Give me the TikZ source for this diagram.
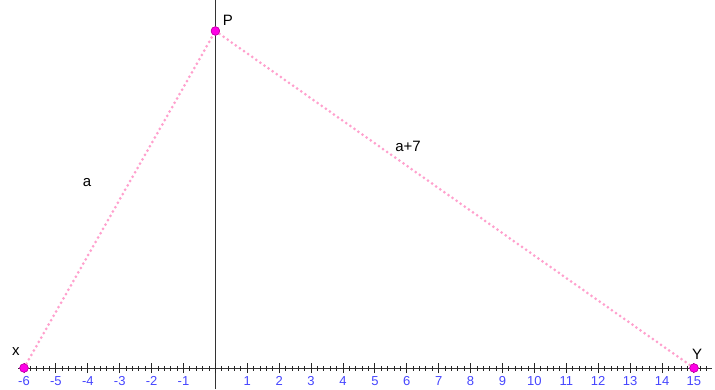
\documentclass[tikz,border=0pt]{standalone}
\usepackage{fontspec}
\setmainfont{Liberation Sans}
\definecolor{segpink}{RGB}{255,160,205}
\definecolor{ptmag}{RGB}{255,0,230}
\definecolor{ptedge}{RGB}{200,0,170}
\definecolor{tickblue}{RGB}{70,70,255}
\begin{document}
\begin{tikzpicture}[x=1pt,y=1pt,
  axisline/.style={draw=black!80,line width=1pt},
  tickline/.style={draw=black!85,line width=0.9pt},
  ticklabel/.style={text=tickblue,font=\fontsize{13}{13}\selectfont,inner sep=0pt},
  ptlabel/.style={text=black,font=\fontsize{15}{15}\selectfont,inner sep=0pt},
  seg/.style={draw=segpink,line width=3pt,line cap=round,dash pattern=on 0pt off 5pt},
  dot/.style={circle,fill=ptmag,draw=ptedge,line width=0.6pt,minimum size=8.5pt,inner sep=0pt}]
\useasboundingbox (0,0) rectangle (715,389);
\def\U{31.9}
\def\Ox{215.4}
\def\Oy{21}
% axes
\coordinate (xl) at (18,\Oy);
\coordinate (xr) at (712,\Oy);
\coordinate (yt) at (\Ox,389);
\coordinate (yb) at (\Ox,0);
\draw[axisline] (xl) -- (xr);
\draw[axisline] (yb) -- (yt);
% minor ticks
\foreach \i in {-30,...,77}{
  \draw[tickline] ({\Ox+\i*\U/5},{\Oy-2.5}) -- ({\Ox+\i*\U/5},{\Oy+2.5});
}
% major ticks and labels
\foreach \k in {-6,...,15}{
  \draw[tickline] ({\Ox+\k*\U},{\Oy-5}) -- ({\Ox+\k*\U},{\Oy+5});
}
\foreach \k in {-6,...,-1,1,2,...,15}{
  \node[ticklabel] (t\k) at ({\Ox+\k*\U},{\Oy-13}) {\k};
}
% points
\node[dot] (X) at (24,\Oy) {};
\node[dot] (Y) at (694,\Oy) {};
\node[dot] (P) at (\Ox,358) {};
\draw[seg] (X.center) -- (P.center);
\draw[seg] (P.center) -- (Y.center);
\node[dot] at (X) {};
\node[dot] at (Y) {};
\node[dot] at (P) {};
% labels
\node[ptlabel] (lx) at (16,37) {x};
\node[ptlabel] (ly) at (697,35) {Y};
\node[ptlabel] (lp) at (228,369) {P};
\node[ptlabel] (la) at (87,206) {a};
\node[ptlabel] (la7) at (408,243) {a+7};
\end{tikzpicture}
\end{document}
